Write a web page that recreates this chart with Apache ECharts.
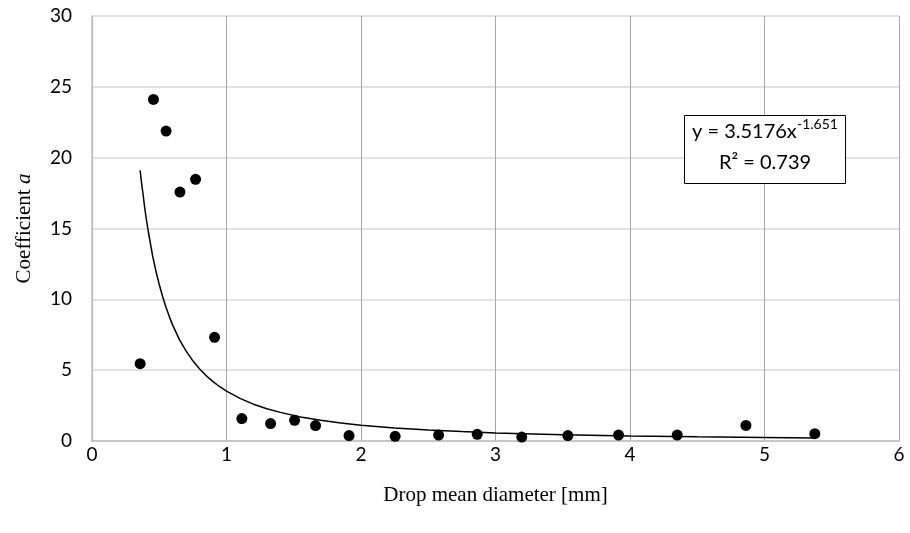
<!DOCTYPE html>
<html>
<head>
<meta charset="utf-8">
<script src="https://cdn.jsdelivr.net/npm/echarts@6/dist/echarts.min.js"></script>
<style>html,body{margin:0;padding:0;background:#fff}#c{width:910px;height:533px}</style>
</head>
<body>
<div id="c"></div>
<script>
// Measured points: drop mean diameter [mm] vs coefficient a
const diameters = [0.358, 0.457, 0.551, 0.654, 0.770, 0.911, 1.114, 1.328, 1.506, 1.662, 1.911,
  2.254, 2.577, 2.864, 3.195, 3.538, 3.915, 4.351, 4.862, 5.374];
const coefficients = [5.46, 24.11, 21.88, 17.57, 18.47, 7.32, 1.58, 1.23, 1.46, 1.09, 0.38,
  0.33, 0.42, 0.47, 0.28, 0.38, 0.42, 0.42, 1.10, 0.52];
// Power trendline
const trendX = [0.358, 0.37, 0.38, 0.39, 0.4, 0.42, 0.45, 0.475, 0.5, 0.525, 0.55, 0.575, 0.6, 0.65, 0.7, 0.75, 0.8, 0.85, 0.9, 0.95, 1.0, 1.1, 1.2, 1.3, 1.4, 1.55, 1.7, 1.85, 2.0, 2.25, 2.5, 2.75, 3.0, 3.5, 4.0, 4.5, 5.0, 5.374];
const trendY = [19.1, 18.1, 17.4, 16.6, 15.9, 14.7, 13.1, 12.0, 11.05, 10.2, 9.44, 8.78, 8.18, 7.16, 6.34, 5.66, 5.08, 4.60, 4.19, 3.83, 3.52, 3.01, 2.60, 2.28, 2.02, 1.70, 1.46, 1.27, 1.12, 0.921, 0.775, 0.662, 0.573, 0.445, 0.357, 0.294, 0.247, 0.219];
const xTicks = [0, 1, 2, 3, 4, 5, 6];
const yTicks = [0, 5, 10, 15, 20, 25, 30];
const eqLine1 = 'y = 3.5176x';
const eqExp = '-1.651';
const eqLine2 = 'R² = 0.739';

const chart = echarts.init(document.getElementById('c'));
const tickFont = 'Lato, "Open Sans", sans-serif';
const titleFont = '"Liberation Serif", "DejaVu Serif", serif';
chart.setOption({
  backgroundColor: '#ffffff',
  animation: false,
  grid: {left: 92, right: 11, top: 16, bottom: 92, containLabel: false},
  xAxis: {
    type: 'value', min: xTicks[0], max: xTicks[xTicks.length - 1], interval: 1,
    name: 'Drop mean diameter [mm]', nameLocation: 'middle', nameGap: 44,
    nameTextStyle: {fontFamily: titleFont, fontSize: 21, color: '#000'},
    axisLine: {show: true, lineStyle: {color: '#bfbfbf', width: 1.5}},
    axisTick: {show: false},
    axisLabel: {fontFamily: tickFont, fontSize: 19, color: '#000', margin: 4},
    splitLine: {show: true, lineStyle: {color: '#a6a6a6', width: 1}}
  },
  yAxis: {
    type: 'value', min: yTicks[0], max: yTicks[yTicks.length - 1], interval: 5,
    name: '{n|Coefficient }{i|a}', nameLocation: 'middle', nameGap: 57,
    nameTextStyle: {
      rich: {
        n: {fontFamily: titleFont, fontSize: 21, color: '#000'},
        i: {fontFamily: titleFont, fontSize: 21, color: '#000', fontStyle: 'italic'}
      }
    },
    axisLine: {show: true, lineStyle: {color: '#bfbfbf', width: 1.5}},
    axisTick: {show: false},
    axisLabel: {fontFamily: tickFont, fontSize: 19, color: '#000', margin: 20},
    splitLine: {show: true, lineStyle: {color: '#d9d9d9', width: 1.5}}
  },
  series: [
    {
      type: 'line',
      data: trendX.map((x, i) => [x, trendY[i]]),
      smooth: false,
      showSymbol: false,
      lineStyle: {color: '#000', width: 1.5},
      z: 2
    },
    {
      type: 'scatter',
      data: diameters.map((x, i) => [x, coefficients[i]]),
      symbol: 'circle',
      symbolSize: 11,
      itemStyle: {color: '#000', opacity: 1},
      z: 3
    }
  ],
  graphic: [
    {type: 'rect', shape: {x: 684.5, y: 115.5, width: 161, height: 68},
     style: {fill: '#fff', stroke: '#000', lineWidth: 1}, z: 10},
    {type: 'text', x: 692, y: 132,
     style: {text: eqLine1, fontFamily: tickFont, fontSize: 20, fill: '#000', verticalAlign: 'middle'}, z: 11},
    {type: 'text', x: 797, y: 124,
     style: {text: eqExp, fontFamily: tickFont, fontSize: 14, fill: '#000', verticalAlign: 'middle'}, z: 11},
    {type: 'text', x: 765, y: 163,
     style: {text: eqLine2, fontFamily: tickFont, fontSize: 20, fill: '#000', align: 'center', verticalAlign: 'middle'}, z: 11}
  ]
});
</script>
</body>
</html>
